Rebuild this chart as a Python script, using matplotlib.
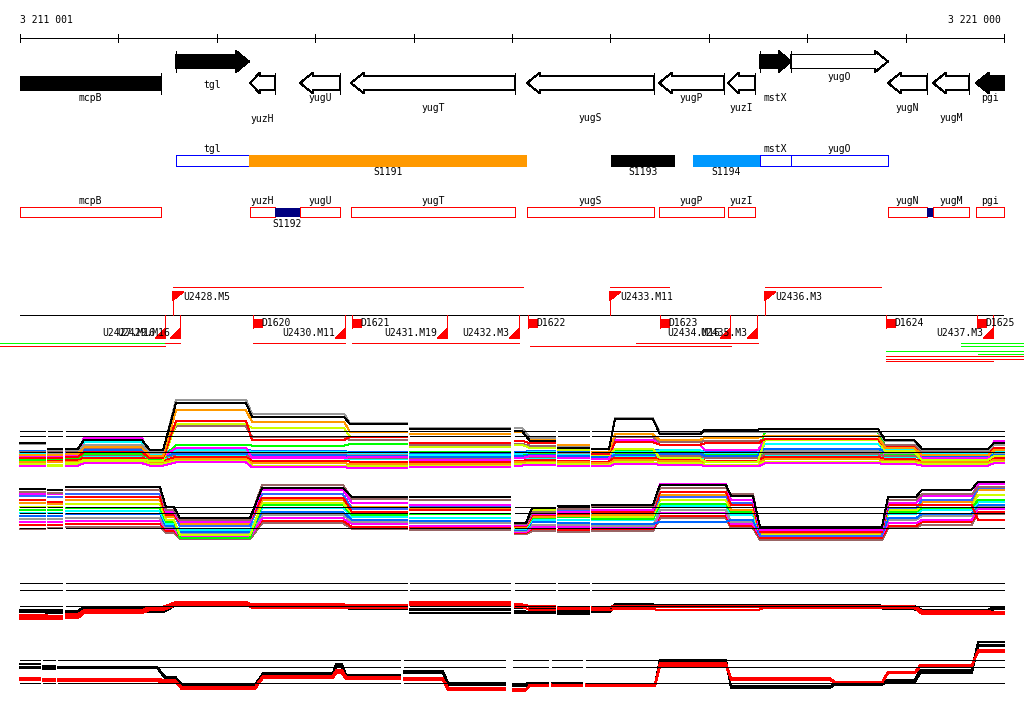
import numpy as np
import matplotlib
matplotlib.use('Agg')
import matplotlib.pyplot as plt
from matplotlib.patches import Polygon, Rectangle

# region shown (bp)
view_start = 3211001
view_end = 3221000

# genes (row 1 arrows, rows 2/3 boxes)
gene_names = ['mcpB', 'tgl', 'yuzH', 'yugU', 'yugT', 'yugS', 'yugP', 'yuzI', 'mstX', 'yugO', 'yugN', 'yugM', 'pgi']
gene_start = [3209800, 3212586, 3213338, 3213846, 3214364, 3216153, 3217494, 3218195, 3218521, 3218836, 3219821, 3220279, 3220715]
gene_end = [3212434, 3213328, 3213592, 3214253, 3216031, 3217443, 3218155, 3218470, 3218836, 3219821, 3220217, 3220644, 3221900]
gene_strand = [-1, 1, -1, -1, -1, -1, -1, -1, 1, 1, -1, -1, -1]
gene_black = [True, True, False, False, False, False, False, False, True, False, False, False, True]

# segments
seg_names = ['S1191', 'S1192', 'S1193', 'S1194', '']
seg_start = [3213328, 3213592, 3217007, 3217840, 3220217]
seg_end = [3216153, 3213846, 3217657, 3218521, 3220279]
seg_strand = [1, -1, 1, 1, -1]
seg_colors = ['#ff9900', '#000080', '#000000', '#0099ff', '#000080']

# transcription sites
up_names = ['U2428.M5', 'U2433.M11', 'U2436.M3']
up_pos = [3212556, 3216996, 3218571]
up_end = [3216112, 3217596, 3219750]
dn_names = ['U2427.M16', 'U2429.M16', 'U2430.M11', 'U2431.M19', 'U2432.M3', 'U2434.M16', 'U2435.M3', 'U2437.M3']
dn_pos = [3212474, 3212627, 3214304, 3215340, 3216072, 3218216, 3218490, 3220888]
d_names = ['D1620', 'D1621', 'D1622', 'D1623', 'D1624', 'D1625']
d_pos = [3213369, 3214375, 3216163, 3217504, 3219801, 3220726]

# extents drawn under the site line
ext_start = [3210798, 3212474, 3213369, 3214375, 3217260, 3220563, 3210798, 3216183, 3220563, 3219801, 3220736, 3219801, 3219801, 3219801]
ext_end = [3212474, 3212627, 3214304, 3216072, 3218500, 3221203, 3212474, 3218226, 3221203, 3221203, 3221203, 3221203, 3221203, 3220888]
ext_row = [0, 0, 0, 0, 0, 0, 1, 1, 1, 2, 3, 4, 5, 6]
ext_green = [True, False, False, False, False, True, False, False, True, True, True, False, False, False]

# expression plateaus (bp)
P_start = [3211001, 3211286, 3211468, 3211651, 3212322, 3212586, 3213358, 3214354, 3214964, 3216031,
           3216183, 3216468, 3216813, 3217047, 3217504, 3217962, 3218571, 3219791, 3220167, 3220898]
P_end = [3211255, 3211428, 3211590, 3212241, 3212454, 3213298, 3214293, 3214934, 3215980, 3216102,
         3216437, 3216783, 3216986, 3217433, 3217911, 3218500, 3219720, 3220085, 3220838, 3221000]
Q_start = [3211001, 3211286, 3211468, 3212485, 3212627, 3213460, 3214375, 3214964, 3216031,
           3216204, 3216468, 3216813, 3217504, 3218226, 3218521, 3219821, 3220167, 3220736]
Q_end = [3211255, 3211428, 3212424, 3212566, 3213338, 3214283, 3214934, 3215980, 3216143,
         3216437, 3216783, 3217433, 3218175, 3218449, 3219760, 3220106, 3220672, 3221000]
R_start = [3211001, 3211235, 3211387, 3212474, 3212647, 3213470, 3214212, 3214314, 3214903, 3215350,
           3216011, 3216183, 3216407, 3216752, 3217504, 3218226, 3219283, 3219821, 3220146, 3220736]
R_end = [3211204, 3211357, 3212393, 3212576, 3213389, 3214182, 3214273, 3214862, 3215299, 3215929,
         3216133, 3216366, 3216712, 3217454, 3218175, 3219232, 3219760, 3220096, 3220672, 3221000]

gaps_AB = [(3211255, 3211286), (3211428, 3211468), (3214934, 3214964), (3215980, 3216031), (3216437, 3216468), (3216783, 3216813)]
gaps_C = [(3211428, 3211468), (3214934, 3214964), (3215980, 3216031), (3216437, 3216468), (3216783, 3216813)]
gaps_D = [(3211204, 3211235), (3211357, 3211387), (3214862, 3214903), (3215929, 3216011), (3216366, 3216407), (3216712, 3216752)]

# panel A signal (log scale), first rows drawn first
A_colors = ['#3366ff', '#ff00ff', '#00ffff', '#ff0000', '#00ff00', '#ff9900', '#999999', '#ccff00', '#996666', '#ff00ff', '#0066ff',
            '#00ff00', '#00ffff', '#0066ff', '#ff00ff', '#996666', '#ccff00', '#ff0000', '#ff9900', '#999999', '#000000']
A_levels = [
    [-0.1, -0.2, -0.1, 0.1, -0.2, 0.2, -0.1, -0.2, -0.3, -0.2, -0.1, -0.2, -0.3, 0.1, 0.0, -0.2, 0.2, -0.1, -0.2, 0.0],
    [-0.5, -0.6, -0.5, -0.2, -0.6, -0.1, -0.6, -0.7, -0.8, -0.6, -0.5, -0.6, -0.7, -0.2, -0.4, -0.6, -0.1, -0.4, -0.6, -0.3],
    [-0.8, -0.8, -0.7, -0.5, -0.8, -0.4, -0.8, -0.9, -1.0, -0.8, -0.7, -0.8, -0.9, -0.5, -0.6, -0.8, -0.4, -0.6, -0.8, -0.6],
    [-1.0, -1.1, -1.0, -0.7, -1.1, -0.6, -1.1, -1.2, -1.3, -1.1, -1.0, -1.1, -1.2, -0.7, -0.9, -1.1, -0.6, -0.9, -1.1, -0.8],
    [-0.3, -0.4, -0.3, -0.1, -0.4, 0.0, -0.4, -0.5, -0.5, -0.4, -0.3, -0.4, -0.5, -0.1, -0.2, -0.4, 0.0, -0.2, -0.4, -0.2],
    [-1.3, -1.3, -1.2, -1.0, -1.3, -0.9, -1.4, -1.5, -1.5, -1.3, -1.2, -1.3, -1.4, -1.0, -1.1, -1.3, -0.9, -1.1, -1.3, -1.0],
    [-0.2, -0.3, -0.2, 0.0, -0.3, 0.1, -0.3, -0.3, -0.4, -0.3, -0.2, -0.3, -0.4, 0.0, -0.1, -0.3, 0.1, -0.1, -0.3, -0.1],
    [-1.5, -1.6, -1.5, -1.2, -1.5, -1.1, -1.7, -1.8, -1.7, -1.5, -1.4, -1.5, -1.6, -1.3, -1.4, -1.6, -1.2, -1.3, -1.5, -1.2],
    [-0.6, -0.7, -0.6, -0.4, -0.7, -0.3, -0.7, -0.8, -0.9, -0.7, -0.6, -0.7, -0.8, -0.4, -0.5, -0.7, -0.3, -0.5, -0.7, -0.5],
    [-1.7, -1.8, -1.7, -1.4, -1.7, -1.3, -1.9, -2.0, -1.9, -1.7, -1.6, -1.7, -1.8, -1.5, -1.6, -1.8, -1.4, -1.5, -1.7, -1.4],
    [0.1, 0.0, 0.1, 0.3, 0.0, 0.4, 0.1, 0.0, -0.1, 0.0, 0.1, 0.0, -0.1, 0.3, 0.2, 0.0, 0.4, 0.1, 0.0, 0.2],
    [-1.0, -0.9, -0.8, -0.2, -0.9, 0.9, 0.8, 1.0, 0.0, -0.4, -0.2, -0.4, -0.8, 0.2, 0.0, -0.4, 2.5, 0.8, -0.8, 0.0],
    [-0.2, -0.5, -0.2, 1.2, -0.4, 0.2, 0.0, -0.1, -0.4, -0.2, 0.0, -0.4, -0.5, 0.0, 0.2, -0.1, 1.0, 0.2, -0.2, 0.0],
    [-0.5, -0.6, -0.5, 0.0, -0.5, -0.2, -0.4, -0.5, -0.6, -0.5, -0.4, -0.5, -0.6, -0.4, -0.2, -0.5, 1.5, 0.0, -0.5, -0.4],
    [-0.6, -0.6, -0.5, 1.8, -0.6, 0.5, -0.8, -0.6, -1.0, -0.8, -0.5, -0.8, -0.9, 1.5, 0.9, 0.2, 1.5, 0.8, -0.8, 1.4],
    [0.0, 0.0, 0.1, 0.5, 0.0, 3.2, 1.9, 1.5, 0.9, 1.0, 0.8, 0.2, 0.0, 1.9, 1.2, 1.4, 1.5, 0.9, 0.0, 0.4],
    [-1.5, -1.8, -1.4, -1.0, -1.1, 3.5, 3.0, 1.9, 0.6, 0.9, 0.5, 0.2, -0.4, 0.4, -0.8, -1.2, 1.5, 0.1, -1.0, -0.5],
    [-0.8, -0.8, -0.6, 0.0, -0.8, 3.9, 1.5, 1.9, 1.1, 1.4, 1.1, 0.5, -0.2, 1.2, 0.9, 1.1, 1.6, 0.6, -0.4, 0.5],
    [-0.4, -0.4, -0.2, 0.6, -0.5, 5.2, 3.8, 2.5, 2.2, 2.5, 1.5, 0.9, 0.0, 2.2, 1.5, 1.8, 2.0, 0.5, -0.4, 0.2],
    [1.0, 0.2, 0.2, 0.9, 0.0, 6.5, 4.8, 3.6, 3.0, 3.0, 1.8, 0.6, 0.4, 4.2, 2.4, 2.5, 2.5, 1.4, 0.2, 0.9],
    [1.1, 0.4, 0.4, 1.5, 0.2, 6.1, 4.4, 3.5, 2.9, 2.6, 1.4, 0.5, 0.4, 4.1, 2.2, 2.8, 2.9, 1.5, 0.4, 1.1],
]

# panel B signal
B_colors = ['#996666', '#ff0000', '#ff00ff', '#999999', '#0066ff', '#00ffff', '#00ff00', '#ccff00', '#ff9900',
            '#3366ff', '#ff0000', '#ff00ff', '#996666', '#000000']
B_levels = [
    [-0.1, 0.0, 0.1, -0.6, -1.4, 0.6, -0.1, -0.2, -0.8, -0.4, -0.5, -0.4, 1.2, 0.0, -1.5, 0.0, 0.4, 1.8],
    [0.4, 0.4, 0.5, -0.4, -1.0, 0.9, 0.1, 0.0, -0.6, -0.1, -0.2, -0.1, 1.5, 0.2, -1.2, 0.2, 0.8, 2.0],
    [0.8, 0.8, 0.9, -0.1, -1.1, 1.2, 0.5, 0.2, -0.5, 0.1, 0.1, 0.0, 1.9, 0.5, -1.0, 0.6, 1.0, 2.4],
    [1.1, 1.1, 1.2, 0.0, -0.6, 1.6, 0.8, 0.6, -0.4, 0.4, 0.4, 0.2, 2.2, 0.8, -0.5, 1.0, 1.5, 2.8],
    [1.5, 1.5, 1.8, 0.2, -0.5, 2.0, 1.0, 0.9, -0.2, 0.8, 0.6, 0.5, 0.8, 1.0, -0.9, 1.2, 1.8, 2.9],
    [1.9, 1.9, 2.1, 0.5, -0.2, 2.5, 1.4, 1.2, -0.1, 1.0, 1.0, 1.0, 2.8, 1.6, -0.4, 1.8, 2.2, 3.2],
    [2.2, 2.2, 2.5, 0.8, -1.2, 2.9, 1.6, 1.8, 0.1, 1.2, 1.4, 1.1, 3.0, 2.0, -0.6, 2.0, 2.5, 3.5],
    [2.6, 2.6, 3.0, 1.0, -0.9, 3.1, 1.9, 2.2, 0.0, 2.2, 1.6, 1.4, 3.5, 2.2, -0.8, 2.2, 2.9, 4.1],
    [3.1, 3.0, 3.5, 1.4, 0.5, 3.5, 2.6, 2.4, 0.1, 1.4, 1.5, 1.6, 4.1, 2.2, -0.6, 2.5, 3.2, 4.8],
    [4.0, 3.9, 4.2, 1.8, 0.2, 4.2, 2.4, 2.6, 0.2, 1.9, 2.1, 1.9, 3.9, 3.1, -1.0, 2.5, 3.5, 5.0],
    [3.5, 3.2, 3.9, 1.6, 0.8, 3.8, 2.0, 2.2, 0.2, 1.6, 1.8, 2.0, 4.5, 2.9, -0.5, 2.9, 2.9, 1.0],
    [4.2, 4.2, 4.8, 2.0, 0.8, 4.8, 3.1, 2.9, 0.4, 1.8, 2.0, 2.2, 5.5, 3.5, -0.2, 3.1, 4.0, 5.5],
    [4.5, 4.4, 4.8, 2.2, 1.0, 5.4, 3.6, 3.5, 0.5, 2.0, 2.4, 2.6, 5.0, 4.2, 0.0, 3.5, 4.2, 5.1],
    [4.9, 4.8, 5.1, 2.6, 1.2, 5.0, 3.9, 3.9, 0.6, 2.5, 2.8, 2.9, 5.4, 4.0, 0.1, 3.9, 4.8, 5.8],
]

# panel C (condition averages)
C_colors = ['#000000', '#000000', '#000000', '#ff0000', '#ff0000', '#ff0000']
C_levels = [
    [-0.5, -0.5, -0.6, -0.1, -0.6, 0.4, 0.2, 0.0, -0.4, -0.2, -0.4, -0.6, -0.4, 0.2, 0.1, 0.1, 0.1, 0.0, -0.5, -0.1],
    [-0.6, -0.8, -0.8, -0.4, -0.8, 0.2, 0.1, -0.1, -0.5, -0.6, -0.8, -0.8, -0.5, 0.1, 0.0, 0.0, 0.0, -0.2, -0.6, -0.2],
    [-0.8, -0.9, -0.9, -0.5, -0.8, 0.1, -0.1, -0.4, -0.9, -0.9, -0.9, -1.0, -0.8, -0.1, -0.1, -0.1, -0.1, -0.4, -0.8, -0.4],
    [-1.4, -1.4, -1.2, -0.6, -0.2, 0.4, 0.1, 0.0, 0.4, 0.2, 0.0, -0.1, -0.2, -0.1, -0.1, -0.1, -0.1, -0.1, -0.8, -0.9],
    [-1.6, -1.6, -1.5, -0.9, -0.5, 0.1, -0.2, -0.2, 0.1, -0.1, -0.5, -0.4, -0.5, -0.4, -0.5, -0.5, -0.2, -0.2, -1.0, -1.0],
    [-1.1, -1.2, -1.0, -0.5, -0.1, 0.5, 0.2, 0.1, 0.5, 0.1, -0.1, -0.2, -0.1, 0.0, 0.0, 0.0, 0.0, 0.0, -0.6, -0.8],
]

# panel D (condition averages)
D_colors = ['#000000', '#000000', '#000000', '#ff0000', '#ff0000', '#ff0000']
D_levels = [
    [2.4, 2.1, 2.0, 0.8, -0.2, 1.2, 2.4, 1.0, 1.5, 0.0, -0.1, 0.0, 0.0, -0.1, 2.9, -0.4, -0.1, 0.4, 1.6, 5.1],
    [1.9, 2.0, 1.9, 0.8, -0.4, 1.1, 2.2, 0.9, 1.4, -0.1, -0.2, -0.1, -0.1, -0.2, 2.6, -0.5, -0.2, 0.2, 1.4, 4.8],
    [2.0, 1.8, 1.9, 0.6, -0.5, 1.0, 2.0, 0.8, 1.2, -0.2, -0.4, -0.2, -0.2, -0.4, 2.8, -0.6, -0.2, 0.1, 1.2, 4.6],
    [0.6, 0.5, 0.5, 0.4, -0.5, 0.9, 1.6, 0.8, 0.6, -0.6, -0.9, -0.2, -0.1, -0.1, 2.5, 0.6, 0.1, 1.4, 2.2, 4.1],
    [0.5, 0.4, 0.4, 0.2, -0.8, 0.8, 1.4, 0.6, 0.5, -0.8, -1.0, -0.4, -0.2, -0.2, 2.2, 0.4, 0.0, 1.2, 2.0, 3.9],
    [0.4, 0.2, 0.2, 0.1, -0.6, 0.6, 1.2, 0.5, 0.4, -0.9, -0.8, -0.4, -0.4, -0.4, 2.1, 0.5, 0.0, 1.4, 2.1, 4.0],
]

ref_A = [0, 2.0, 2.65]
ref_B = [0, 1.9, 2.6]
ref_C = [0, 2.0, 2.85]
ref_D = [0, 2.0, 2.9]

plt.rcParams['font.family'] = 'DejaVu Sans Mono'
plt.rcParams['lines.antialiased'] = False
plt.rcParams['patch.antialiased'] = False
fs = 7
lw = 0.72
RED = '#ff0000'

W, H = 1024, 714
fig = plt.figure(figsize=(W / 100, H / 100), dpi=100)
ax = fig.add_axes([0, 0, 1, 1])
bp_px = (view_end - view_start) / 984.0
x_lo = view_start - 20 * bp_px
x_hi = x_lo + W * bp_px
ax.set_xlim(x_lo, x_hi)
ax.set_ylim(H, 0)
ax.axis('off')


def inview(x):
    return min(max(x, view_start), view_end)


# ruler
ax.plot([view_start, view_end], [38, 38], color='black', lw=lw)
for t in np.linspace(view_start, view_end, 11):
    ax.plot([t, t], [34, 42], color='black', lw=lw)
ax.text(view_start, 20, f'{view_start:,}'.replace(',', ' '), fontsize=fs, ha='left', va='center')
ax.text(view_end - 3 * bp_px, 20, f'{view_end:,}'.replace(',', ' '), fontsize=fs, ha='right', va='center')

# row 1: gene arrows
label_y = {'mcpB': 98, 'tgl': 85.5, 'yuzH': 119, 'yugU': 98, 'yugT': 108, 'yugS': 118, 'yugP': 98,
           'yuzI': 108, 'mstX': 98, 'yugO': 76.5, 'yugN': 108, 'yugM': 118, 'pgi': 98}
for n, s, e, st, blk in zip(gene_names, gene_start, gene_end, gene_strand, gene_black):
    yc = 61.5 if st > 0 else 83
    head = min(13 * bp_px, 0.4 * (e - s))
    if st > 0:
        hx, tip, tail = e - head, e, s
    else:
        hx, tip, tail = s + head, s, e
    if view_start < hx < view_end:
        pts = [(tail, yc - 7), (hx, yc - 7), (hx, yc - 10.5), (tip, yc), (hx, yc + 10.5), (hx, yc + 7), (tail, yc + 7)]
    else:
        # arrow head lies outside the shown region: body only
        pts = [(tail, yc - 7), (hx, yc - 7), (hx, yc + 7), (tail, yc + 7)]
    pts = [(inview(x), y) for x, y in pts]
    ax.add_patch(Polygon(pts, closed=True, facecolor='black' if blk else 'white', edgecolor='black', lw=lw))
    if view_start < tail < view_end:
        ax.plot([tail, tail], [yc - 10.5, yc + 10.5], color='black', lw=lw)
    xm = (inview(s) + inview(e)) / 2
    ax.text(xm, label_y[n], n, fontsize=fs, ha='center', va='center')

# rows 2 and 3: gene boxes and segments
for n, s, e, st in zip(gene_names, gene_start, gene_end, gene_strand):
    s, e = inview(s), inview(e)
    y0, ec, ly = (155, '#0000ff', 149.5) if st > 0 else (207, RED, 201)
    ax.add_patch(Rectangle((s, y0), e - s, 11 if st > 0 else 10, facecolor='white', edgecolor=ec, lw=lw))
    ax.text((s + e) / 2, ly, n, fontsize=fs, ha='center', va='center')
for n, s, e, st, c in zip(seg_names, seg_start, seg_end, seg_strand, seg_colors):
    y0, h, ly = (155, 11.5, 172) if st > 0 else (207.5, 9.5, 224)
    ax.add_patch(Rectangle((s, y0), e - s, h, facecolor=c, edgecolor='none', zorder=3))
    if n:
        ax.text((s + e) / 2, ly, n, fontsize=fs, ha='center', va='center')

# row 4: sites
ax.plot([view_start, view_end - bp_px], [315, 315], color='black', lw=lw)
tri = 10 * bp_px
for n, p, e in zip(up_names, up_pos, up_end):
    ax.plot([p, p], [315, 292], color=RED, lw=lw)
    ax.plot([p, e], [287, 287], color=RED, lw=lw)
    ax.add_patch(Polygon([(p, 292), (p + tri, 292), (p, 300)], closed=True, facecolor=RED, edgecolor=RED, lw=0.5))
    ax.text(p + tri, 297.5, n, fontsize=fs, ha='left', va='center')
for n, p in zip(dn_names, dn_pos):
    ax.plot([p, p], [315, 338], color=RED, lw=lw)
    ax.add_patch(Polygon([(p, 328), (p, 338), (p - tri, 338)], closed=True, facecolor=RED, edgecolor=RED, lw=0.5))
    ax.text(p - tri, 332.5, n, fontsize=fs, ha='right', va='center')
for n, p in zip(d_names, d_pos):
    ax.plot([p, p], [315, 328], color=RED, lw=lw)
    ax.add_patch(Rectangle((p, 319), tri, 9, facecolor=RED, edgecolor='none'))
    ax.text(p + 8.5 * bp_px, 323.5, n, fontsize=fs, ha='left', va='center')
row_y = [343, 346, 351, 353.5, 356, 358.5, 361]
for s, e, r, g in zip(ext_start, ext_end, ext_row, ext_green):
    ax.plot([s, e], [row_y[r], row_y[r]], color='#00ff00' if g else RED, lw=lw)


def steps(starts, ends, vals, gaps):
    xs, ys = [], []
    for i, (s, e, v) in enumerate(zip(starts, ends, vals)):
        if i > 0 and any(g0 >= ends[i - 1] - 5 and g1 <= s + 5 for g0, g1 in gaps):
            xs.append(np.nan)
            ys.append(np.nan)
        xs += [s, e]
        ys += [v, v]
    return xs, ys


def panel(levels, colors, starts, ends, gaps, refs, base, top, bottom, scale=8.0):
    a = fig.add_axes([0, 1 - bottom / H, 1, (bottom - top) / H])
    a.set_facecolor('none')
    a.set_xlim(x_lo, x_hi)
    a.set_ylim((base - bottom) / scale, (base - top) / scale)
    a.axis('off')
    for vals, c in zip(levels, colors):
        xs, ys = steps(starts, ends, vals, gaps)
        a.plot(xs, ys, color=c, lw=lw)
    edges = [view_start] + [g for pair in gaps for g in pair] + [view_end]
    for x0, x1 in zip(edges[0::2], edges[1::2]):
        for r in refs:
            a.plot([x0, x1], [r, r], color='black', lw=lw, zorder=5)


panel(A_levels, A_colors, P_start, P_end, gaps_AB, ref_A, 452, 390, 475)
panel(B_levels, B_colors, Q_start, Q_end, gaps_AB, ref_B, 528, 476, 556)
panel(C_levels, C_colors, P_start, P_end, gaps_C, ref_C, 606, 570, 630)
panel(D_levels, D_colors, R_start, R_end, gaps_D, ref_D, 683, 631, 706)

fig.savefig('out.png', dpi=100)
